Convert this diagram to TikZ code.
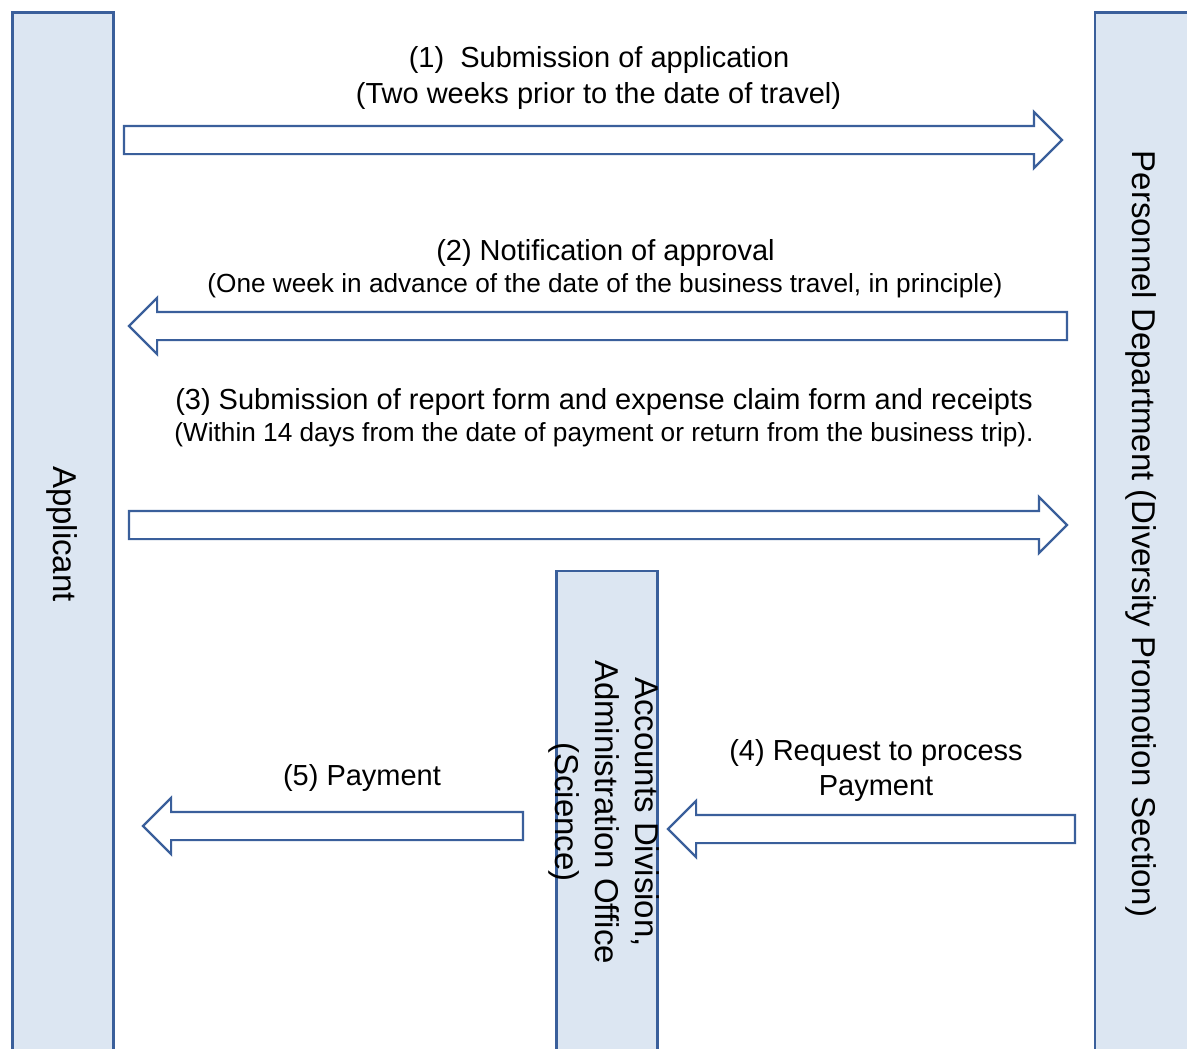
\documentclass[tikz,border=0pt]{standalone}
\usepackage{fontspec}
\setmainfont{Liberation Sans}
\usetikzlibrary{shapes.arrows}

\definecolor{lanefill}{HTML}{DCE6F2}
\definecolor{laneline}{HTML}{3A5F9B}

\begin{document}
\begin{tikzpicture}[x=1pt, y=-1pt,
  lane/.style={draw=laneline, line width=2.8pt, fill=lanefill, anchor=north west, outer sep=0pt},
  lanetext/.style={rotate=-90, font=\fontsize{33}{40}\selectfont, align=center},
  flow/.style={single arrow, draw=laneline, line width=2.2pt, fill=white, anchor=tail,
    inner xsep=0pt, inner ysep=13pt, single arrow head extend=14pt, outer sep=0pt},
  big/.style={font=\fontsize{29}{35}\selectfont, anchor=base},
  small/.style={font=\fontsize{26.2}{32}\selectfont, anchor=base}]
\useasboundingbox (0,0) rectangle (1187,1049);
\clip (0,0) rectangle (1187,1049);

% lanes
\node[lane, minimum width=101pt, minimum height=1060pt] (applicant) at (12.5,12.5) {};
\node[lane, minimum width=100pt, minimum height=1060pt] (personnel) at (1095,12.5) {};
\node[lane, minimum width=101pt, minimum height=500pt] (accounts) at (556.5,571) {};

\node[lanetext] (applicantlabel) at (62,534) {Applicant};
\node[lanetext] (personnellabel) at (1141,534) {Personnel Department (Diversity Promotion Section)};
\node[lanetext] (accountslabel) at (604,812) {Accounts Division,\\Administration Office\\(Science)};

% block arrows
\node[flow, minimum height=938pt] (submit) at (124,140) {};
\node[flow, minimum height=938pt, shape border rotate=180] (approve) at (1067,326) {};
\node[flow, minimum height=938pt] (report) at (129,525) {};
\node[flow, minimum height=407pt, shape border rotate=180] (request) at (1075,829) {};
\node[flow, minimum height=380pt, shape border rotate=180] (payment) at (523,826) {};

% labels
\node[big] (submitA) at (599,68) {(1)\ \ Submission of application};
\node[big] (submitB) at (598.5,103) {(Two weeks prior to the date of travel)};
\node[big] (approveA) at (605.5,260) {(2) Notification of approval};
\node[small] (approveB) at (605,292) {(One week in advance of the date of the business travel, in principle)};
\node[big] (reportA) at (604,409) {(3) Submission of report form and expense claim form and receipts};
\node[small] (reportB) at (604,441) {(Within 14 days from the date of payment or return from the business trip).};
\node[big] (requestA) at (876,760) {(4) Request to process};
\node[big] (requestB) at (876,795) {Payment};
\node[big] (paymentA) at (362,785) {(5) Payment};
\end{tikzpicture}
\end{document}
